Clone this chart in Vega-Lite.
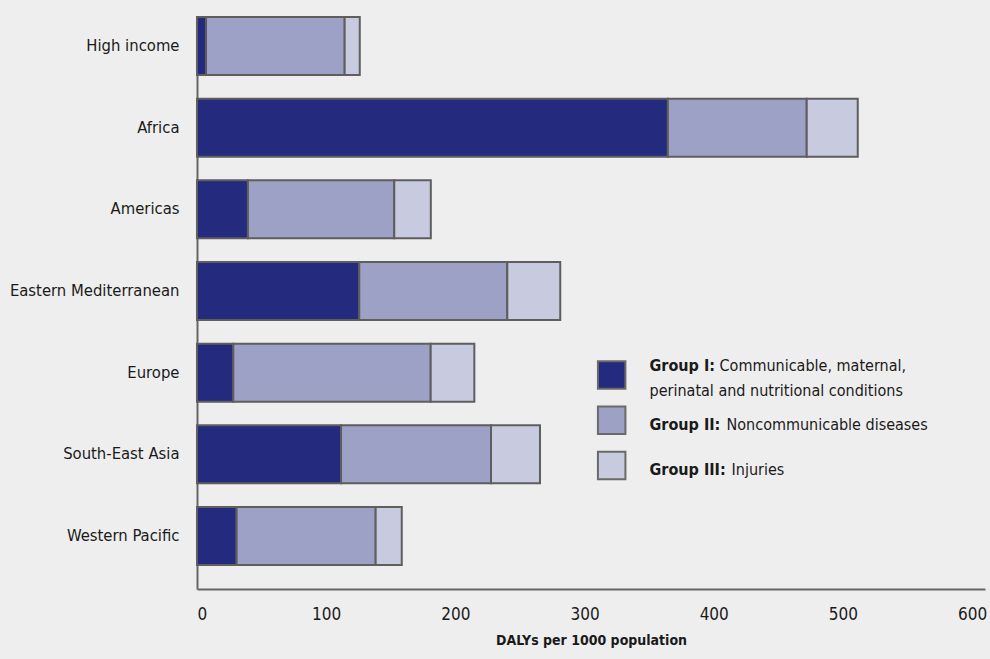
{
  "$schema": "https://vega.github.io/schema/vega-lite/v6.json",
  "autosize": {"type": "none"},
  "padding": {"left": 197, "top": 17, "right": 5, "bottom": 70},
  "width": 788,
  "height": 572,
  "background": "#eeeeee",
  "config": {
    "view": {"stroke": null},
    "font": "DejaVu Sans Condensed, sans-serif",
    "axis": {"labelFont": "DejaVu Sans Condensed, sans-serif", "titleFont": "DejaVu Sans Condensed, sans-serif"}
  },
  "datasets": {
    "bars": [
      {"region": "High income", "group": "Group I", "dalys": 7.0},
      {"region": "High income", "group": "Group II", "dalys": 107.3},
      {"region": "High income", "group": "Group III", "dalys": 11.7},
      {"region": "Africa", "group": "Group I", "dalys": 364.5},
      {"region": "Africa", "group": "Group II", "dalys": 107.5},
      {"region": "Africa", "group": "Group III", "dalys": 39.5},
      {"region": "Americas", "group": "Group I", "dalys": 39.4},
      {"region": "Americas", "group": "Group II", "dalys": 113.3},
      {"region": "Americas", "group": "Group III", "dalys": 28.3},
      {"region": "Eastern Mediterranean", "group": "Group I", "dalys": 125.6},
      {"region": "Eastern Mediterranean", "group": "Group II", "dalys": 114.6},
      {"region": "Eastern Mediterranean", "group": "Group III", "dalys": 41.0},
      {"region": "Europe", "group": "Group I", "dalys": 28.1},
      {"region": "Europe", "group": "Group II", "dalys": 152.8},
      {"region": "Europe", "group": "Group III", "dalys": 33.8},
      {"region": "South-East Asia", "group": "Group I", "dalys": 111.5},
      {"region": "South-East Asia", "group": "Group II", "dalys": 116.1},
      {"region": "South-East Asia", "group": "Group III", "dalys": 37.9},
      {"region": "Western Pacific", "group": "Group I", "dalys": 30.7},
      {"region": "Western Pacific", "group": "Group II", "dalys": 107.6},
      {"region": "Western Pacific", "group": "Group III", "dalys": 20.2}
    ],
    "legend": [
      {"group": "Group I", "rank": 1, "bold": "Group I:", "rest": "Communicable, maternal,", "line2": "perinatal and nutritional conditions"},
      {"group": "Group II", "rank": 2, "bold": "Group II:", "rest": "Noncommunicable diseases", "line2": ""},
      {"group": "Group III", "rank": 3, "bold": "Group III:", "rest": "Injuries", "line2": ""}
    ]
  },
  "layer": [
    {
      "data": {"name": "bars"},
      "mark": {"type": "bar", "stroke": "#5e5e5e", "strokeWidth": 2},
      "encoding": {
        "y": {
          "field": "region", "type": "nominal",
          "sort": ["High income", "Africa", "Americas", "Eastern Mediterranean", "Europe", "South-East Asia", "Western Pacific"],
          "scale": {"paddingInner": 0.29, "paddingOuter": 0.147, "align": 0},
          "axis": {"title": null, "ticks": false, "domainColor": "#666666", "domainWidth": 2, "labelFontSize": 16.5, "labelColor": "#1a1a1a", "labelPadding": 18, "labelLimit": 300}
        },
        "x": {
          "field": "dalys", "type": "quantitative", "stack": "zero",
          "scale": {"domain": [0, 610], "nice": false},
          "axis": {"values": [0, 100, 200, 300, 400, 500, 600], "grid": false, "ticks": false, "domainColor": "#666666", "domainWidth": 2, "labelFontSize": 17, "labelColor": "#1a1a1a", "labelPadding": 17, "title": "DALYs per 1000 population", "titleFontSize": 14, "titleFontWeight": "bold", "titleColor": "#1a1a1a", "titlePadding": 11}
        },
        "color": {
          "field": "group", "type": "nominal",
          "scale": {"domain": ["Group I", "Group II", "Group III"], "range": ["#242a7d", "#9da1c5", "#c8cae0"]},
          "legend": null
        },
        "order": {"field": "group", "sort": "ascending"}
      }
    },
    {
      "data": {"name": "legend"},
      "layer": [
        {
          "mark": {"type": "point", "shape": "square", "size": 756, "filled": true, "opacity": 1, "stroke": "#6a6a6a", "strokeWidth": 2},
          "encoding": {
            "x": {"datum": 321, "type": "quantitative"},
            "y": {"field": "rank", "type": "quantitative", "scale": {"domain": [-6.912, 5.729], "reverse": true, "nice": false, "zero": false}, "axis": null},
            "color": {"field": "group", "type": "nominal", "legend": null}
          }
        },
        {
          "mark": {"type": "text", "align": "left", "baseline": "middle", "fontSize": 16, "fontWeight": "bold", "color": "#1a1a1a", "dy": {"expr": "datum.rank == 1 ? -9 : 4.5"}},
          "encoding": {
            "x": {"datum": 350.3, "type": "quantitative"},
            "y": {"field": "rank", "type": "quantitative", "scale": {"domain": [-6.912, 5.729], "reverse": true, "nice": false, "zero": false}, "axis": null},
            "text": {"field": "bold"}
          }
        },
        {
          "mark": {"type": "text", "align": "left", "baseline": "middle", "fontSize": 16, "color": "#1a1a1a", "dy": {"expr": "datum.rank == 1 ? -9 : 4.5"}, "dx": {"expr": "datum.rank == 1 ? 70 : datum.rank == 2 ? 77 : 82"}},
          "encoding": {
            "x": {"datum": 350.3, "type": "quantitative"},
            "y": {"field": "rank", "type": "quantitative", "scale": {"domain": [-6.912, 5.729], "reverse": true, "nice": false, "zero": false}, "axis": null},
            "text": {"field": "rest"}
          }
        },
        {
          "mark": {"type": "text", "align": "left", "baseline": "middle", "fontSize": 16, "color": "#1a1a1a", "dy": 16},
          "encoding": {
            "x": {"datum": 350.3, "type": "quantitative"},
            "y": {"field": "rank", "type": "quantitative", "scale": {"domain": [-6.912, 5.729], "reverse": true, "nice": false, "zero": false}, "axis": null},
            "text": {"field": "line2"}
          }
        }
      ]
    }
  ],
  "resolve": {"scale": {"y": "independent"}}
}
